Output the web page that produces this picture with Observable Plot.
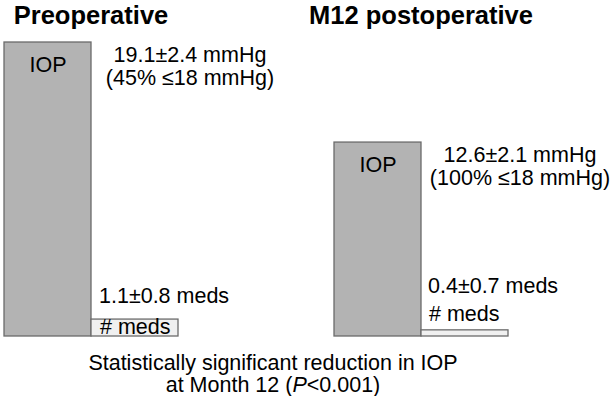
<!DOCTYPE html>
<html>
<head>
<meta charset="utf-8">
<script src="https://cdn.jsdelivr.net/npm/d3@7"></script>
<script src="https://cdn.jsdelivr.net/npm/@observablehq/plot@0.6"></script>
<style>
  body { margin: 0; background: #fff; }
  #chart svg { display: block; }
  #caption { width: 546px; text-align: center; font-family: "Liberation Sans", Arial, sans-serif; font-size: 21.5px; line-height: 22px; margin-top: 2px; color: #000; }
</style>
</head>
<body>
<div id="chart"></div>
<div id="caption">Statistically significant reduction in IOP<br>at Month 12 (<i>P</i>&lt;0.001)</div>
<script>
const groups = ["Preoperative", "M12 postoperative"];
const measures = ["IOP", "meds"];
const measureLabels = ["IOP", "# meds"];
const iopMean = [19.1, 12.6];
const iopSD = [2.4, 2.1];
const iopPctControlled = [45, 100];
const medsMean = [1.1, 0.4];
const medsSD = [0.8, 0.7];

const rows = groups.flatMap((g, i) => [
  {group: g, measure: "IOP", value: iopMean[i], i},
  {group: g, measure: "meds", value: medsMean[i], i}
]);
const iopRows = rows.filter(d => d.measure === "IOP");
const medRows = rows.filter(d => d.measure === "meds");
const label = d => measureLabels[measures.indexOf(d.measure)];
const iopText = d => `${iopMean[d.i].toFixed(1)}±${iopSD[d.i].toFixed(1)} mmHg\n(${iopPctControlled[d.i]}% ≤18 mmHg)`;
const medText = d => `${medsMean[d.i].toFixed(1)}±${medsSD[d.i].toFixed(1)} meds`;

const pre = medRows.filter(d => d.i === 0);
const post = medRows.filter(d => d.i === 1);

const chart = Plot.plot({
  width: 615,
  height: 350,
  marginTop: 42,
  marginBottom: 14,
  marginLeft: 2,
  marginRight: 107,
  style: {fontFamily: "'Liberation Sans', Arial, sans-serif", fontSize: "21.5px", color: "#000", background: "#fff"},
  fx: {domain: groups, paddingInner: 0.471, paddingOuter: 0, axis: null},
  x: {domain: measures, padding: 0, axis: null},
  y: {domain: [0, 19.1], axis: null},
  color: {domain: measures, range: ["#b3b3b3", "#f0f0f0"]},
  marks: [
    Plot.barY(rows, {fx: "group", x: "measure", y: "value", fill: "measure", stroke: "#6b6b6b", strokeWidth: 1.3}),
    Plot.text(groups, {fx: d => d, text: d => d, frameAnchor: "top", dy: -19, lineAnchor: "bottom", fontWeight: "bold", fontSize: 25.5}),
    Plot.text(iopRows, {fx: "group", x: "measure", y: "value", text: label, dy: 29, lineAnchor: "bottom"}),
    Plot.text(iopRows, {fx: "group", x: () => "meds", y: "value", text: iopText, dx: 55, dy: 42, lineAnchor: "bottom", lineHeight: 1.03}),
    Plot.text(pre, {fx: "group", x: "measure", y: "value", text: medText, textAnchor: "start", dx: -36, dy: -17, lineAnchor: "bottom"}),
    Plot.text(pre, {fx: "group", x: "measure", y: "value", text: label, textAnchor: "start", dx: -35, dy: 14, lineAnchor: "bottom"}),
    Plot.text(post, {fx: "group", x: "measure", y: "value", text: medText, textAnchor: "start", dx: -37, dy: -37, lineAnchor: "bottom"}),
    Plot.text(post, {fx: "group", x: "measure", y: "value", text: label, textAnchor: "start", dx: -36, dy: -9, lineAnchor: "bottom"})
  ]
});
document.getElementById("chart").append(chart);
</script>
</body>
</html>
